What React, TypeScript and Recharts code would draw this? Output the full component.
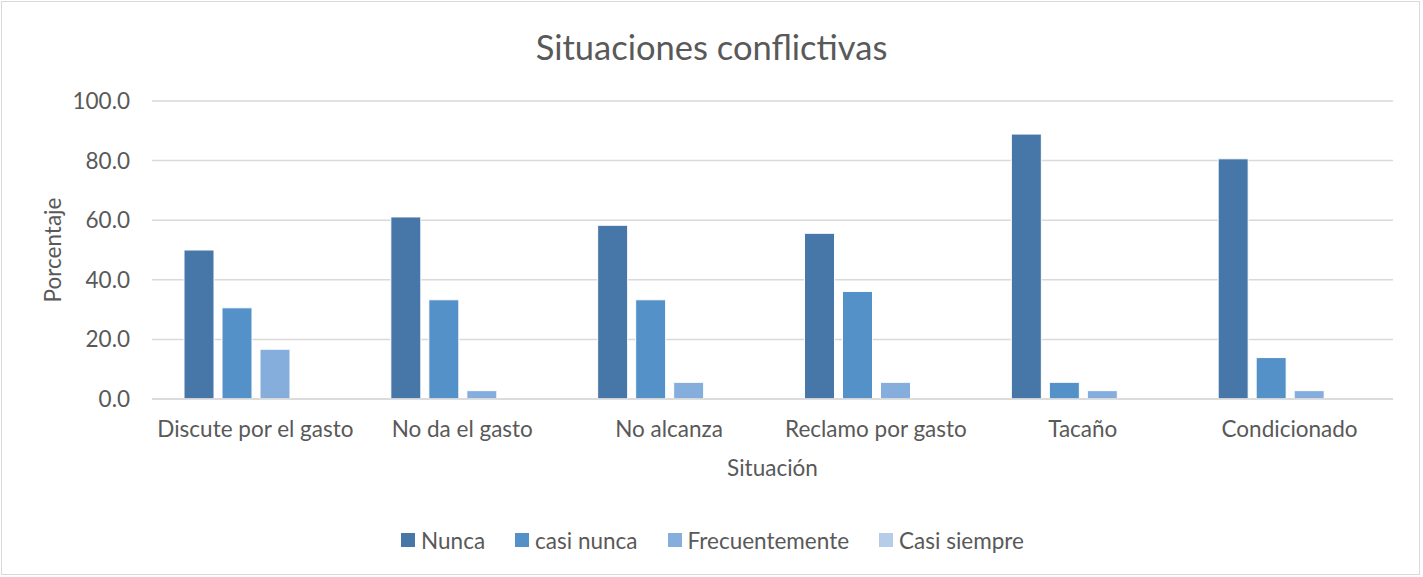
import { BarChart, Bar, XAxis, YAxis, CartesianGrid, Legend, Label } from 'recharts'

const categories = ['Discute por el gasto', 'No da el gasto', 'No alcanza', 'Reclamo por gasto', 'Tacaño', 'Condicionado']
const nunca = [50.0, 61.1, 58.3, 55.6, 88.9, 80.6]
const casiNunca = [30.6, 33.3, 33.3, 36.1, 5.6, 13.9]
const frecuentemente = [16.7, 2.8, 5.6, 5.6, 2.8, 2.8]
const casiSiempre = [0, 0, 0, 0, 0, 0]
const yTicks = [0, 20, 40, 60, 80, 100]

const seriesKeys = ['nunca', 'casiNunca', 'frecuentemente', 'casiSiempre']
const seriesNames = ['Nunca', 'casi nunca', 'Frecuentemente', 'Casi siempre']
const seriesColors = ['#4677a8', '#5491c9', '#86aedc', '#b5cde9']

const data = categories.map((name, i) => ({
  name,
  nunca: nunca[i],
  casiNunca: casiNunca[i],
  frecuentemente: frecuentemente[i],
  casiSiempre: casiSiempre[i],
}))

const font = 'Lato, sans-serif'
const textColor = '#595959'
const fs = 22.5

function LegendContent() {
  return (
    <div style={{ display: 'flex', justifyContent: 'center', alignItems: 'center', height: 26 }}>
      {seriesNames.map((n, i) => (
        <div key={n} style={{ display: 'flex', alignItems: 'center', marginRight: i < 3 ? 30 : 0 }}>
          <span style={{ width: 14, height: 14, background: seriesColors[i], marginRight: 6 }} />
          <span style={{ color: textColor, fontSize: fs, fontFamily: font }}>{n}</span>
        </div>
      ))}
    </div>
  )
}

export default function App() {
  return (
    <div
      style={{
        position: 'absolute',
        left: 0,
        top: 0,
        width: 1423,
        height: 577,
        background: '#fff',
        fontFamily: font,
      }}
    >
      <div
        style={{
          position: 'absolute',
          left: 1,
          top: 1,
          width: 1419,
          height: 574,
          border: '1px solid #d9d9d9',
          boxSizing: 'border-box',
        }}
      />
      <div
        style={{
          position: 'absolute',
          top: 26,
          width: 1423,
          textAlign: 'center',
          fontSize: 34.5,
          lineHeight: '42px',
          color: textColor,
        }}
      >
        Situaciones conflictivas
      </div>
      <BarChart
        width={1423}
        height={577}
        data={data}
        margin={{ top: 101, right: 30, left: 32, bottom: 122 }}
        barCategoryGap={32}
        barGap={8}
        style={{ position: 'absolute', left: 0, top: 0 }}
      >
        <CartesianGrid vertical={false} stroke="#d9d9d9" strokeWidth={1.5} />
        <XAxis
          dataKey="name"
          axisLine={{ stroke: '#d9d9d9', strokeWidth: 1.5 }}
          tickLine={false}
          tickSize={0}
          tickMargin={22}
          tick={{ fill: textColor, fontSize: fs, fontFamily: font }}
          interval={0}
        >
          <Label
            value="Situación"
            position="bottom"
            offset={31}
            style={{ fill: textColor, fontSize: fs, fontFamily: font }}
          />
        </XAxis>
        <YAxis
          width={120}
          domain={[0, 100]}
          ticks={yTicks}
          axisLine={false}
          tickLine={false}
          tickSize={0}
          tickMargin={22}
          tickFormatter={(v: number) => v.toFixed(1)}
          tick={{ fill: textColor, fontSize: fs, fontFamily: font }}
        >
          <Label
            content={(props: any) => {
              const vb = props.viewBox
              const cx = 52
              const cy = vb.y + vb.height / 2
              return (
                <text
                  x={cx}
                  y={cy}
                  transform={`rotate(-90 ${cx} ${cy})`}
                  textAnchor="middle"
                  dominantBaseline="central"
                  fill={textColor}
                  fontSize={fs}
                  fontFamily={font}
                >
                  Porcentaje
                </text>
              )
            }}
          />
        </YAxis>
        <Legend verticalAlign="bottom" height={26} wrapperStyle={{ bottom: 24 }} content={() => <LegendContent />} />
        {seriesKeys.map((k, i) => (
          <Bar
            key={k}
            dataKey={k}
            name={seriesNames[i]}
            fill={seriesColors[i]}
            stroke="#fff"
            strokeWidth={1}
            isAnimationActive={false}
          />
        ))}
      </BarChart>
    </div>
  )
}
